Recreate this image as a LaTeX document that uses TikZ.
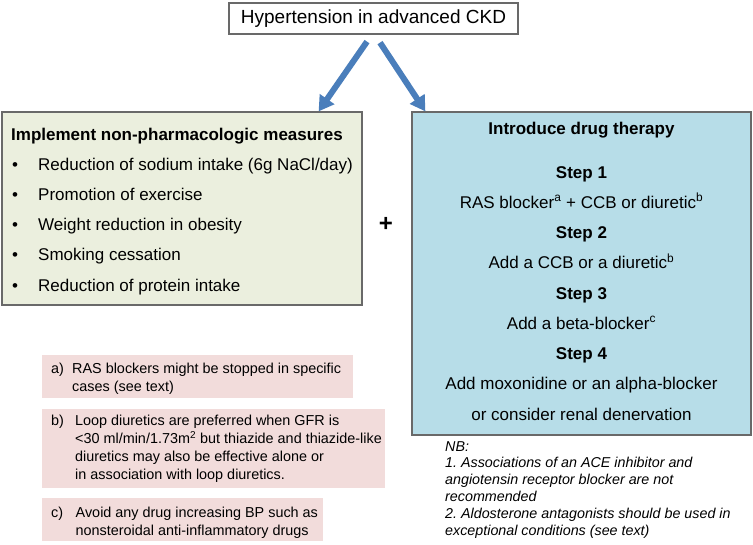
\documentclass[tikz,border=0pt]{standalone}
\usepackage{fontspec}
\setmainfont{Liberation Sans}
\usetikzlibrary{arrows.meta,positioning,calc}
\definecolor{arrowblue}{RGB}{74,126,187}
\definecolor{measfill}{RGB}{235,239,222}
\definecolor{drugfill}{RGB}{183,221,232}
\definecolor{notefill}{RGB}{242,220,219}
\definecolor{edgegray}{RGB}{105,105,105}
\frenchspacing

\begin{document}
\begin{tikzpicture}[x=1pt, y=-1pt,
  framebox/.style={rectangle, draw=edgegray, line width=1.2pt, inner sep=0pt},
  notebox/.style={rectangle, fill=notefill, inner sep=0pt},
  bodytext/.style={font=\fontsize{17}{20}\selectfont, inner sep=0pt},
  boldtext/.style={font=\fontsize{17}{20}\selectfont\bfseries, inner sep=0pt},
  notetext/.style={font=\fontsize{14.4}{18}\selectfont, inner sep=0pt, anchor=base west},
  nbtext/.style={font=\fontsize{14.3}{17}\selectfont\itshape, inner sep=0pt, anchor=base west},
  bigarrow/.style={draw=arrowblue, line width=6pt, -{Triangle[width=17pt, length=15pt]}}
]
  \useasboundingbox (0,0) rectangle (753,544);

  % boxes
  \node[framebox, minimum width=289pt, minimum height=31pt] (title) at (373.5,18.5) {};
  \node[framebox, fill=measfill, minimum width=360pt, minimum height=193pt] (measures) at (182,208.5) {};
  \node[framebox, fill=drugfill, minimum width=339pt, minimum height=323pt] (drug) at (581.5,273.5) {};
  \node[notebox, minimum width=311pt, minimum height=43pt] (notea) at (197.5,376.5) {};
  \node[notebox, minimum width=343pt, minimum height=79pt] (noteb) at (213.5,448.5) {};
  \node[notebox, minimum width=281pt, minimum height=43pt] (notec) at (182.5,519.5) {};

  \node[font=\fontsize{19}{22}\selectfont, inner sep=0pt] (titletext) at (title.center) {Hypertension in advanced CKD};

  % arrows
  \coordinate (lstart) at ($(title.south)+(-6.5,7)$);
  \coordinate (rstart) at ($(title.south)+(6.5,8)$);
  \draw[bigarrow] (lstart) -- ($(measures.north east)+(-44,0)$);
  \draw[bigarrow] (rstart) -- ($(drug.north west)+(14,0)$);

  % non-pharmacologic measures
  \node[boldtext, anchor=base west] (meastitle) at (11,140) {Implement non-pharmacologic measures};
  \foreach \entry [count=\i] in {Reduction of sodium intake (6g NaCl/day), Promotion of exercise,
      Weight reduction in obesity, Smoking cessation, Reduction of protein intake}
  {
    \node[bodytext, anchor=base west] (bul\i) at (12,170+30.25*\i-30.25) {\textbullet};
    \node[bodytext, anchor=base west] (meas\i) at (38,170+30.25*\i-30.25) {\entry};
  }

  \node[font=\fontsize{24}{24}\selectfont\bfseries, inner sep=0pt] (plus) at (386,224) {+};

  % drug therapy
  \node[boldtext, anchor=base] (drugtitle) at (581.5,134) {Introduce drug therapy};
  \foreach \entry [count=\i] in {{\bfseries Step 1}, {RAS blocker\textsuperscript{a} + CCB or diuretic\textsuperscript{b}},
      {\bfseries Step 2}, {Add a CCB or a diuretic\textsuperscript{b}},
      {\bfseries Step 3}, {Add a beta-blocker\textsuperscript{c}},
      {\bfseries Step 4}, {Add moxonidine or an alpha-blocker}, {or consider renal denervation}}
    \node[bodytext, anchor=base] (drug\i) at (581.5,178+30.25*\i-30.25) {\entry};

  % footnotes
  \node[notetext] (labela) at (51,373) {a)};
  \foreach \entry [count=\i] in {RAS blockers might be stopped in specific, cases (see text)}
    \node[notetext] (texta\i) at (72,373+18.5*\i-18.5) {\entry};
  \node[notetext] (labelb) at (51,425) {b)};
  \foreach \entry [count=\i] in {Loop diuretics are preferred when GFR is,
      {<30 ml/min/1.73m\textsuperscript{2} but thiazide and thiazide-like},
      diuretics may also be effective alone or, in association with loop diuretics.}
    \node[notetext] (textb\i) at (75,425+18.3*\i-18.3) {\entry};
  \node[notetext] (labelc) at (51,517) {c)};
  \foreach \entry [count=\i] in {Avoid any drug increasing BP such as, nonsteroidal anti-inflammatory drugs}
    \node[notetext] (textc\i) at (75.5,517+18.3*\i-18.3) {\entry};

  % NB
  \foreach \entry [count=\i] in {NB:, 1. Associations of an ACE inhibitor and,
      angiotensin receptor blocker are not, recommended,
      2. Aldosterone antagonists should be used in, exceptional conditions (see text)}
    \node[nbtext] (nb\i) at (445,451+16.8*\i-16.8) {\entry};
\end{tikzpicture}
\end{document}
